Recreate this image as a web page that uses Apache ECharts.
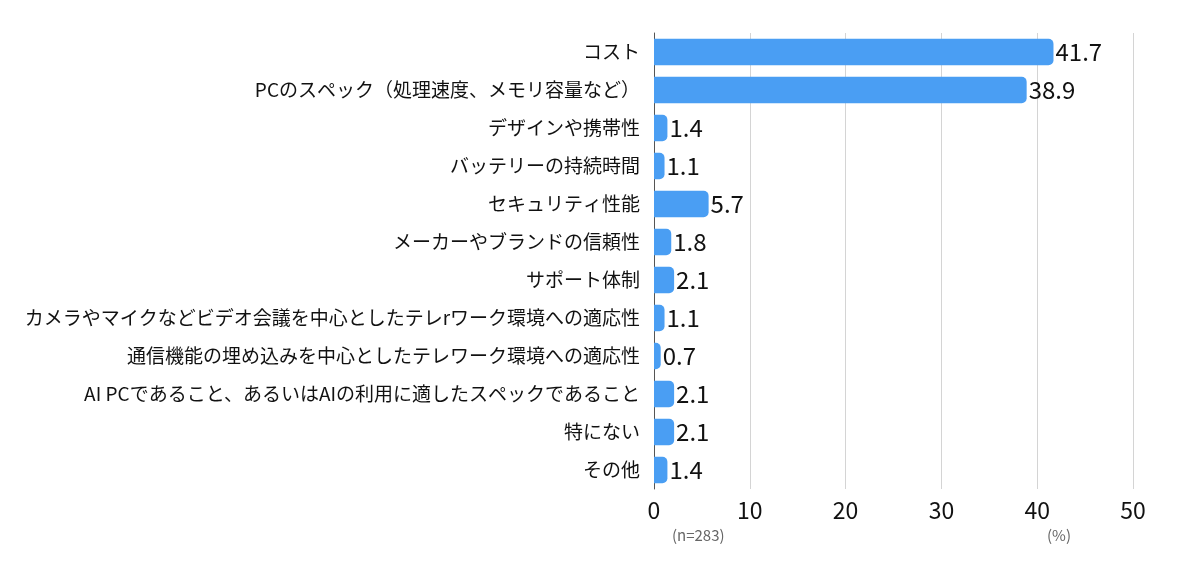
<!DOCTYPE html>
<html>
<head>
<meta charset="utf-8">
<script src="https://cdn.jsdelivr.net/npm/echarts@6/dist/echarts.min.js"></script>
<style>
  html, body { margin: 0; padding: 0; background: #fff; }
  #chart { width: 1200px; height: 565px; }
</style>
</head>
<body>
<div id="chart"></div>
<script>
// データ（上から順）
const categories = [
  'コスト',
  'PCのスペック（処理速度、メモリ容量など）',
  'デザインや携帯性',
  'バッテリーの持続時間',
  'セキュリティ性能',
  'メーカーやブランドの信頼性',
  'サポート体制',
  'カメラやマイクなどビデオ会議を中心としたテレrワーク環境への適応性',
  '通信機能の埋め込みを中心としたテレワーク環境への適応性',
  'AI PCであること、あるいはAIの利用に適したスペックであること',
  '特にない',
  'その他'
];
const values = [41.7, 38.9, 1.4, 1.1, 5.7, 1.8, 2.1, 1.1, 0.7, 2.1, 2.1, 1.4];
const xTicks = [0, 10, 20, 30, 40, 50];
const sampleNote = '(n=283)';
const unitNote = '(%)';

const font = '"Noto Sans CJK JP", "Noto Sans", sans-serif';
const chart = echarts.init(document.getElementById('chart'));

chart.setOption({
  backgroundColor: '#fff',
  animation: false,
  grid: { left: 654, right: 67, top: 33, bottom: 76 },
  xAxis: {
    type: 'value',
    min: xTicks[0],
    max: xTicks[xTicks.length - 1],
    interval: 10,
    axisLine: { show: false },
    axisTick: { show: false },
    splitLine: { show: true, lineStyle: { color: '#d4d4d4', width: 1 } },
    axisLabel: { color: '#111', fontSize: 23, fontFamily: font, margin: 10 }
  },
  yAxis: {
    type: 'category',
    data: categories.slice().reverse(),
    axisLine: { show: true, lineStyle: { color: '#555', width: 1 } },
    axisTick: { show: false },
    axisLabel: { color: '#111', fontSize: 19, fontFamily: font, margin: 14 }
  },
  graphic: [
    { type: 'text', left: 672, top: 528, style: { text: sampleNote, fill: '#666', font: '15px ' + font } },
    { type: 'text', left: 1047, top: 528, style: { text: unitNote, fill: '#666', font: '15px ' + font } }
  ],
  series: [{
    type: 'bar',
    data: values.slice().reverse(),
    barWidth: '70%',
    itemStyle: { color: '#4a9ef3', borderRadius: [0, 5, 5, 0] },
    label: {
      show: true,
      position: 'right',
      distance: 2,
      color: '#111',
      fontSize: 24,
      fontFamily: font,
      formatter: p => p.value.toFixed(1)
    }
  }]
});
</script>
</body>
</html>
